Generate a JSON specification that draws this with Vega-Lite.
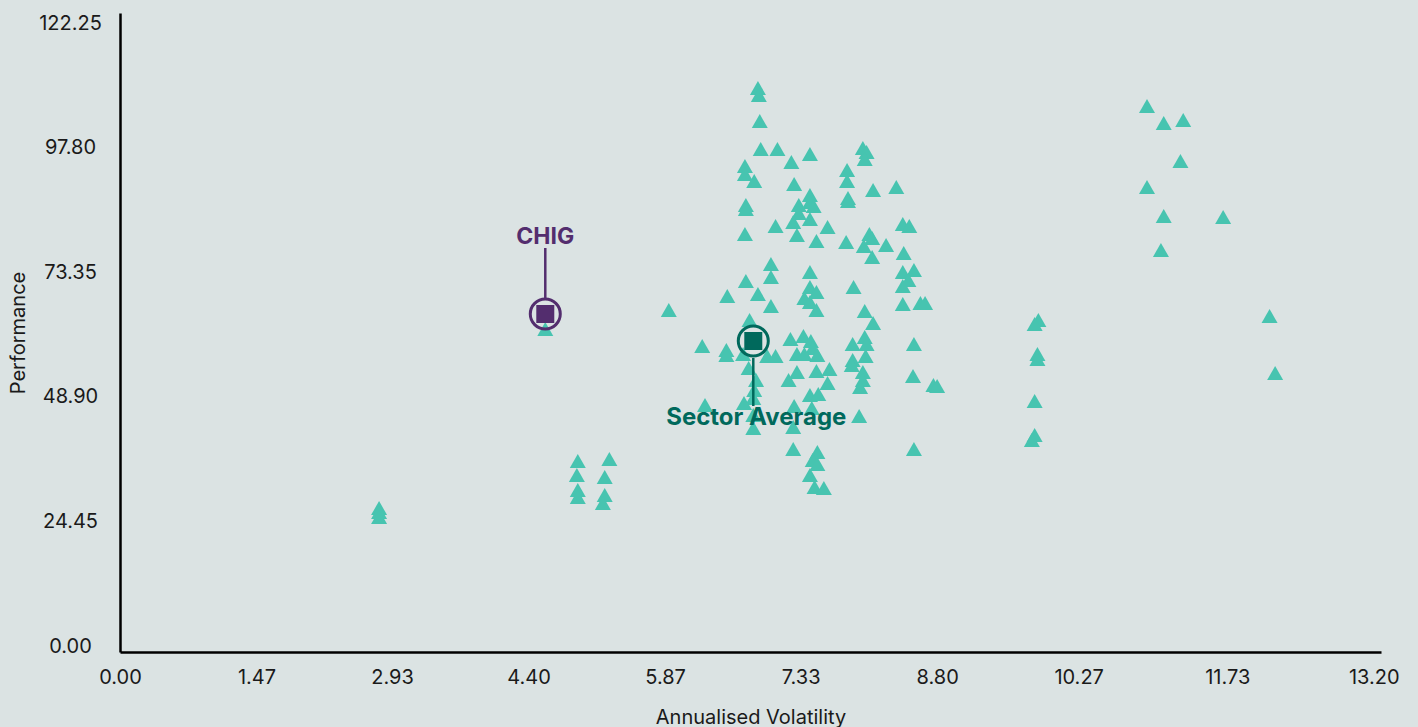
{
  "$schema": "https://vega.github.io/schema/vega-lite/v6.json",
  "width": 1261,
  "height": 639,
  "autosize": {"type": "none"},
  "padding": {"left": 120, "top": 13, "right": 37, "bottom": 75},
  "background": "#dbe3e3",
  "config": {"view": {"stroke": null}, "font": "Inter"},
  "datasets": {
    "funds": [
      {"vol": 2.79, "perf": 28.26}, {"vol": 2.79, "perf": 27.47}, {"vol": 2.79, "perf": 26.49},
      {"vol": 4.93, "perf": 37.48}, {"vol": 4.92, "perf": 34.73}, {"vol": 4.93, "perf": 31.79}, {"vol": 4.93, "perf": 30.42},
      {"vol": 5.27, "perf": 37.87}, {"vol": 5.22, "perf": 34.34}, {"vol": 5.22, "perf": 30.81}, {"vol": 5.20, "perf": 29.24},
      {"vol": 4.58, "perf": 63.39}, {"vol": 5.91, "perf": 67.11},
      {"vol": 6.87, "perf": 110.68}, {"vol": 6.88, "perf": 109.31}, {"vol": 6.89, "perf": 104.20}, {"vol": 6.90, "perf": 98.71},
      {"vol": 7.08, "perf": 98.71}, {"vol": 7.23, "perf": 96.16}, {"vol": 7.43, "perf": 97.73}, {"vol": 6.73, "perf": 95.37},
      {"vol": 6.73, "perf": 93.80}, {"vol": 6.83, "perf": 92.43}, {"vol": 8.00, "perf": 98.91}, {"vol": 8.04, "perf": 98.12},
      {"vol": 8.02, "perf": 96.75}, {"vol": 7.83, "perf": 94.59}, {"vol": 7.83, "perf": 92.43}, {"vol": 7.26, "perf": 91.84},
      {"vol": 8.11, "perf": 90.66}, {"vol": 8.36, "perf": 91.25}, {"vol": 6.74, "perf": 87.72}, {"vol": 6.74, "perf": 86.93},
      {"vol": 7.43, "perf": 89.68}, {"vol": 7.43, "perf": 88.31}, {"vol": 7.31, "perf": 87.72}, {"vol": 7.47, "perf": 87.52},
      {"vol": 7.84, "perf": 89.09}, {"vol": 7.84, "perf": 88.50}, {"vol": 7.06, "perf": 83.60}, {"vol": 7.31, "perf": 86.15},
      {"vol": 7.25, "perf": 84.38}, {"vol": 7.43, "perf": 84.97}, {"vol": 7.62, "perf": 83.40}, {"vol": 7.29, "perf": 81.83},
      {"vol": 7.50, "perf": 80.65}, {"vol": 6.73, "perf": 82.03}, {"vol": 8.43, "perf": 83.99}, {"vol": 8.50, "perf": 83.60},
      {"vol": 7.82, "perf": 80.46}, {"vol": 8.07, "perf": 82.03}, {"vol": 8.10, "perf": 81.24}, {"vol": 8.01, "perf": 79.67},
      {"vol": 8.25, "perf": 79.87}, {"vol": 8.10, "perf": 77.51}, {"vol": 8.44, "perf": 78.30}, {"vol": 7.01, "perf": 76.14},
      {"vol": 7.43, "perf": 74.57}, {"vol": 8.43, "perf": 74.57}, {"vol": 8.55, "perf": 74.96}, {"vol": 6.74, "perf": 72.81},
      {"vol": 7.01, "perf": 73.59}, {"vol": 8.43, "perf": 71.82}, {"vol": 8.49, "perf": 73.00}, {"vol": 7.90, "perf": 71.63},
      {"vol": 7.43, "perf": 71.63}, {"vol": 7.50, "perf": 70.65}, {"vol": 6.54, "perf": 69.86}, {"vol": 6.87, "perf": 70.25},
      {"vol": 7.01, "perf": 67.90}, {"vol": 7.37, "perf": 69.47}, {"vol": 7.43, "perf": 68.68}, {"vol": 7.50, "perf": 67.11},
      {"vol": 8.02, "perf": 66.92}, {"vol": 8.11, "perf": 64.56}, {"vol": 8.43, "perf": 68.29}, {"vol": 8.62, "perf": 68.49},
      {"vol": 8.67, "perf": 68.49}, {"vol": 6.78, "perf": 65.15}, {"vol": 6.27, "perf": 60.05}, {"vol": 6.53, "perf": 59.26},
      {"vol": 6.53, "perf": 58.28}, {"vol": 6.71, "perf": 58.48}, {"vol": 6.97, "perf": 58.09}, {"vol": 7.06, "perf": 58.09},
      {"vol": 7.22, "perf": 61.42}, {"vol": 7.36, "perf": 62.01}, {"vol": 7.44, "perf": 61.03}, {"vol": 7.46, "perf": 59.66},
      {"vol": 7.29, "perf": 58.48}, {"vol": 7.37, "perf": 58.48}, {"vol": 7.51, "perf": 58.28}, {"vol": 7.89, "perf": 60.44},
      {"vol": 8.02, "perf": 61.82}, {"vol": 8.04, "perf": 60.44}, {"vol": 8.03, "perf": 58.09}, {"vol": 7.89, "perf": 57.30},
      {"vol": 7.88, "perf": 56.32}, {"vol": 8.55, "perf": 60.44}, {"vol": 6.77, "perf": 55.73}, {"vol": 6.85, "perf": 53.38},
      {"vol": 7.29, "perf": 54.95}, {"vol": 7.20, "perf": 53.38}, {"vol": 7.50, "perf": 55.14}, {"vol": 7.64, "perf": 55.54},
      {"vol": 7.62, "perf": 52.79}, {"vol": 8.00, "perf": 54.95}, {"vol": 8.00, "perf": 53.38}, {"vol": 7.97, "perf": 52.00},
      {"vol": 8.54, "perf": 54.16}, {"vol": 8.76, "perf": 52.40}, {"vol": 8.80, "perf": 52.20}, {"vol": 6.83, "perf": 51.41},
      {"vol": 6.82, "perf": 49.85}, {"vol": 6.72, "perf": 48.86}, {"vol": 6.30, "perf": 48.47}, {"vol": 7.43, "perf": 50.43},
      {"vol": 7.52, "perf": 50.63}, {"vol": 7.26, "perf": 48.27}, {"vol": 7.45, "perf": 47.88}, {"vol": 7.96, "perf": 46.31},
      {"vol": 6.82, "perf": 46.51}, {"vol": 6.82, "perf": 43.96}, {"vol": 7.25, "perf": 44.15}, {"vol": 7.25, "perf": 39.84},
      {"vol": 7.51, "perf": 39.25}, {"vol": 7.46, "perf": 37.68}, {"vol": 7.51, "perf": 36.89}, {"vol": 7.43, "perf": 34.73},
      {"vol": 7.48, "perf": 32.38}, {"vol": 7.58, "perf": 32.18}, {"vol": 8.55, "perf": 39.84},
      {"vol": 11.06, "perf": 107.15}, {"vol": 11.24, "perf": 103.81}, {"vol": 11.45, "perf": 104.40}, {"vol": 11.42, "perf": 96.35},
      {"vol": 11.06, "perf": 91.25}, {"vol": 11.24, "perf": 85.56}, {"vol": 11.88, "perf": 85.36}, {"vol": 11.21, "perf": 78.89},
      {"vol": 9.89, "perf": 65.15}, {"vol": 9.85, "perf": 64.37}, {"vol": 9.88, "perf": 58.48}, {"vol": 9.88, "perf": 57.50},
      {"vol": 9.85, "perf": 49.26}, {"vol": 9.85, "perf": 42.58}, {"vol": 9.82, "perf": 41.60},
      {"vol": 12.38, "perf": 65.94}, {"vol": 12.44, "perf": 54.75}
    ],
    "highlights": [
      {"name": "CHIG", "vol": 4.58, "perf": 66.33},
      {"name": "Sector Average", "vol": 6.82, "perf": 61.03}
    ]
  },
  "encoding": {
    "x": {
      "field": "vol", "type": "quantitative",
      "scale": {"domain": [0, 13.58], "nice": false, "zero": false},
      "axis": {
        "title": "Annualised Volatility",
        "values": [0, 1.47, 2.93, 4.4, 5.87, 7.33, 8.8, 10.27, 11.73, 13.2],
        "format": ".2f", "grid": false, "ticks": false,
        "domainColor": "#000000", "domainWidth": 2.5,
        "labelFontSize": 20, "labelColor": "#1a1a1a", "labelPadding": 15,
        "labelFlush": false, "labelOverlap": false,
        "labelOffset": {"condition": [
          {"test": "datum.value > 10 && datum.value < 11", "value": 5},
          {"test": "datum.value > 11 && datum.value < 12", "value": 18},
          {"test": "datum.value > 13", "value": 28}
        ], "value": 0},
        "titleFontSize": 20, "titleFontWeight": "normal", "titleColor": "#1a1a1a", "titlePadding": 20
      }
    },
    "y": {
      "field": "perf", "type": "quantitative",
      "scale": {"domain": [0, 125.4], "nice": false, "zero": false},
      "axis": {
        "title": "Performance",
        "values": [0, 24.45, 48.9, 73.35, 97.8, 122.25],
        "format": ".2f", "grid": false, "ticks": false,
        "domainColor": "#000000", "domainWidth": 2.5,
        "labelFontSize": 20, "labelColor": "#1a1a1a", "labelPadding": 50,
        "labelAlign": "center", "labelBaseline": "middle", "labelOffset": -6,
        "labelFlush": false, "labelOverlap": false,
        "titleFontSize": 20, "titleFontWeight": "normal", "titleColor": "#1a1a1a", "titlePadding": 10
      }
    }
  },
  "layer": [
    {
      "data": {"name": "funds"},
      "mark": {"type": "point", "shape": "triangle-up", "filled": true, "size": 256, "color": "#47c4b0", "opacity": 1, "strokeWidth": 0}
    },
    {
      "data": {"name": "highlights"},
      "mark": {"type": "point", "shape": "circle", "filled": false, "size": 900, "strokeWidth": 3, "opacity": 1},
      "encoding": {
        "color": {"field": "name", "type": "nominal", "scale": {"domain": ["CHIG", "Sector Average"], "range": ["#532d6e", "#00695c"]}, "legend": null}
      }
    },
    {
      "data": {"name": "highlights"},
      "mark": {"type": "point", "shape": "square", "filled": true, "size": 324, "opacity": 1, "strokeWidth": 0},
      "encoding": {
        "color": {"field": "name", "type": "nominal", "scale": {"domain": ["CHIG", "Sector Average"], "range": ["#532d6e", "#00695c"]}, "legend": null}
      }
    },
    {
      "data": {"name": "highlights"},
      "transform": [{"filter": "datum.name == 'CHIG'"}],
      "mark": {"type": "rule", "yOffset": -16, "y2Offset": -66, "strokeWidth": 2.5, "color": "#532d6e"},
      "encoding": {"y2": {"field": "perf"}}
    },
    {
      "data": {"name": "highlights"},
      "transform": [{"filter": "datum.name == 'Sector Average'"}],
      "mark": {"type": "rule", "yOffset": 17, "y2Offset": 65, "strokeWidth": 2.5, "color": "#00695c"},
      "encoding": {"y2": {"field": "perf"}}
    },
    {
      "data": {"name": "highlights"},
      "transform": [{"filter": "datum.name == 'CHIG'"}],
      "mark": {"type": "text", "dy": -70, "baseline": "alphabetic", "align": "center", "fontSize": 23, "fontWeight": "bold", "color": "#532d6e"},
      "encoding": {"text": {"field": "name"}}
    },
    {
      "data": {"name": "highlights"},
      "transform": [{"filter": "datum.name == 'Sector Average'"}],
      "mark": {"type": "text", "dy": 84, "dx": 3, "baseline": "alphabetic", "align": "center", "fontSize": 24, "fontWeight": "bold", "color": "#00695c"},
      "encoding": {"text": {"field": "name"}}
    }
  ]
}
